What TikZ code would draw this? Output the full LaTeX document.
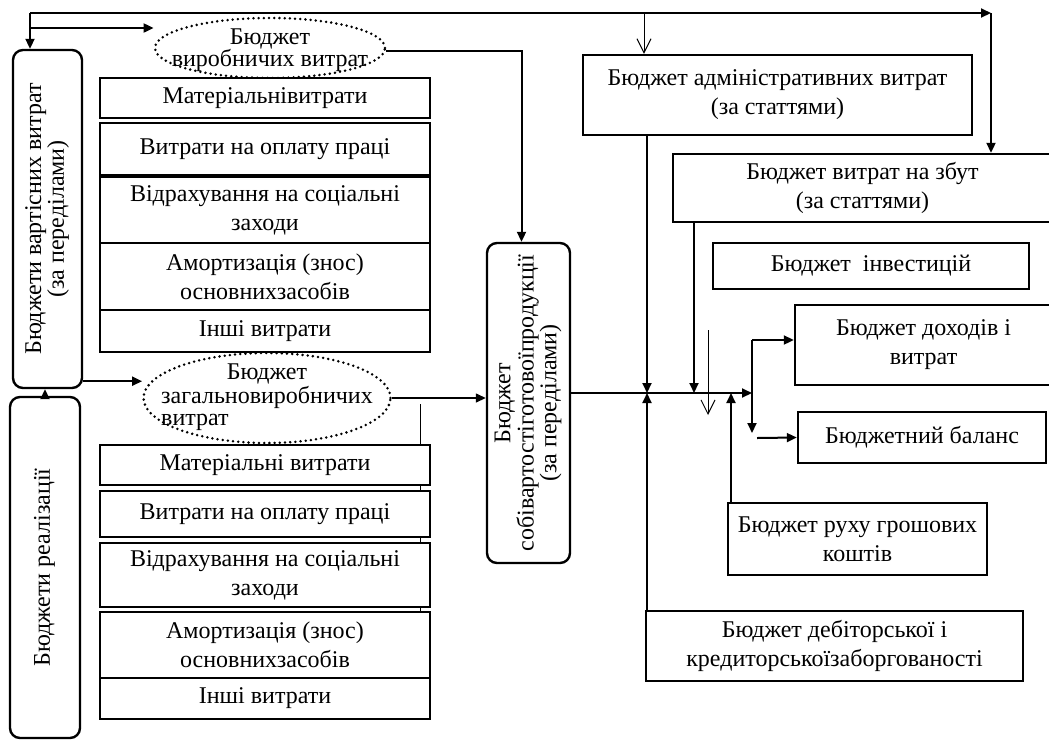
\documentclass[tikz,border=0pt]{standalone}
\usepackage{fontspec}
\setmainfont{Liberation Serif}
\usepackage{graphicx}
\usetikzlibrary{arrows.meta, positioning, shapes.geometric, calc}

\newcommand{\vlabel}[1]{\rotatebox{90}{\begin{tabular}{@{}c@{}}#1\end{tabular}}}

\begin{document}
\begin{tikzpicture}[x=0.5pt, y=-0.5pt,
  every node/.style={font=\fontsize{12}{14.5}\selectfont},
  box/.style={draw, line width=1.2pt, fill=white, align=center, inner sep=1.5pt},
  rbox/.style={draw, line width=1.2pt, fill=white, rounded corners=5pt, inner sep=1.5pt, font=\fontsize{12}{10}\selectfont},
  dotell/.style={ellipse, draw, line width=1.4pt, dash pattern=on 0pt off 2.6pt, line cap=round, inner sep=0pt},
  elltext/.style={align=center, inner sep=0pt, font=\fontsize{12}{11}\selectfont},
  arr/.style={-{Triangle[length=5pt, width=4.5pt]}, line width=1pt},
  thinarr/.style={-{Straight Barb[length=7pt, width=7pt]}, line width=0.5pt}
]
  \useasboundingbox (0,0) rectangle (1049,740);
  \clip (0,0) rectangle (1049,740);

  % thin line behind the lower stack
  \draw[line width=0.5pt] (420,404) -- (420,612);

  % Left budgets
  \node[rbox, minimum width=34.5pt, minimum height=169pt] (vart) at (47.5,219) {\vlabel{Бюджети вартісних витрат\\(за переділами)}};
  \node[rbox, minimum width=35pt, minimum height=170.5pt] (real) at (45,567.5) {\vlabel{Бюджети реалізації}};

  % Production costs
  \node[dotell, minimum width=115pt, minimum height=30pt] (vyr) at (270,48) {};
  \node[elltext] (vyrtxt) at ([yshift=-1pt]vyr.center) {Бюджет\\виробничих витрат};
  \node[box, minimum width=165pt, minimum height=20pt] (u1) at (265,98) {Матеріальнівитрати};
  \node[box, minimum width=165pt, minimum height=26pt] (u2) at (265,149) {Витрати на оплату праці};
  \node[box, minimum width=165pt, minimum height=33pt] (u3) at (265,210) {Відрахування на соціальні\\заходи};
  \node[box, minimum width=165pt, minimum height=33.5pt] (u4) at (265,276.5) {Амортизація (знос)\\основнихзасобів};
  \node[box, minimum width=165pt, minimum height=21pt] (u5) at (265,331) {Інші витрати};

  % Overhead costs
  \node[dotell, minimum width=123.5pt, minimum height=45pt] (zag) at (267,398) {};
  \node[elltext] (zagtxt) at (zag) {\begin{tabular}{@{}l@{}}\multicolumn{1}{@{}c@{}}{Бюджет}\\загальновиробничих\\витрат\end{tabular}};
  \node[box, minimum width=165pt, minimum height=20pt] (l1) at (265,465) {Матеріальні витрати};
  \node[box, minimum width=165pt, minimum height=23pt] (l2) at (265,514) {Витрати на оплату праці};
  \node[box, minimum width=165pt, minimum height=32pt] (l3) at (265,575) {Відрахування на соціальні\\заходи};
  \node[box, minimum width=165pt, minimum height=33pt] (l4) at (265,645) {Амортизація (знос)\\основнихзасобів};
  \node[box, minimum width=165pt, minimum height=20.5pt] (l5) at (265,698.5) {Інші витрати};

  % Cost of finished goods
  \node[rbox, minimum width=41.5pt, minimum height=160pt] (sobiv) at (528.5,403) {\vlabel{Бюджет\\собівартостіготовоїпродукції\\(за переділами)}};

  % Right budgets
  \node[box, minimum width=194.5pt, minimum height=40pt] (adm) at (777.5,95) {Бюджет адміністративних витрат\\(за статтями)};
  \node[box, minimum width=189.5pt, minimum height=34pt] (zbut) at (862.5,188) {Бюджет витрат на збут\\(за статтями)};
  \node[box, minimum width=158pt, minimum height=23pt] (inv) at (871,266) {Бюджет~ інвестицій};
  \node[box, minimum width=128.5pt, minimum height=40pt] (doh) at (923.5,345) {Бюджет доходів і\\витрат};
  \node[box, minimum width=124pt, minimum height=25.5pt] (bal) at (922,437.5) {Бюджетний баланс};
  \node[box, minimum width=129.5pt, minimum height=36pt] (cash) at (857.5,539) {Бюджет руху грошових\\коштів};
  \node[box, minimum width=188.5pt, minimum height=35pt] (deb) at (834.5,646) {Бюджет дебіторської і\\кредиторськоїзаборгованості};

  % Junctions
  \coordinate (tl) at (30,13);
  \coordinate (tr) at (991,13);
  \coordinate (br) at (30,28);
  \coordinate (hub) at (752,393);
  \coordinate (fork) at (752,340);
  \coordinate (forkend) at (752,433);
  \coordinate (balin) at (757,438);
  \coordinate (xadm) at (647,393);
  \coordinate (xsbt) at (694,393);
  \coordinate (xcash) at (731,393);
  \coordinate (admtop) at (644,13);
  \coordinate (freetop) at (708,330);
  \coordinate (freebot) at (708,415);
  \coordinate (vartout) at ([yshift=4pt]vart.south east);

  % Top loop
  \draw[arr] (tl) -- (tr);
  \draw[arr] (tl) -- (tl |- vart.north);
  \draw[arr] (br) -- (br -| vyr.west);
  \draw[arr] (tr) -- (tr |- zbut.north);
  \draw[thinarr] (admtop) -- (admtop |- adm.north);

  % Left connectors
  \draw[arr] ([yshift=-1.5pt]vyr.east) -| ([xshift=-3.5pt]sobiv.north);
  \draw[arr] (vartout) -- (vartout -| zag.west);
  \draw[arr] (real.north) -- (real.north |- vart.south);
  \draw[arr, line width=0.7pt] (zag.east) -- (zag.east -| sobiv.west);

  % Main line
  \draw[arr] (sobiv.east |- hub) -- (hub);
  \draw[arr] (xadm |- adm.south) -- (xadm);
  \draw[arr] (xadm |- deb.north) -- (xadm);
  \draw[arr] (xsbt |- zbut.south) -- (xsbt);
  \draw[arr] (xcash |- cash.north) -- (xcash);
  \draw[thinarr] (freetop) -- (freebot);
  \draw[arr] (fork) -- (fork -| doh.west);
  \draw[arr] (fork) -- (forkend);
  \draw[arr] (balin) -- (bal.west);
\end{tikzpicture}
\end{document}
